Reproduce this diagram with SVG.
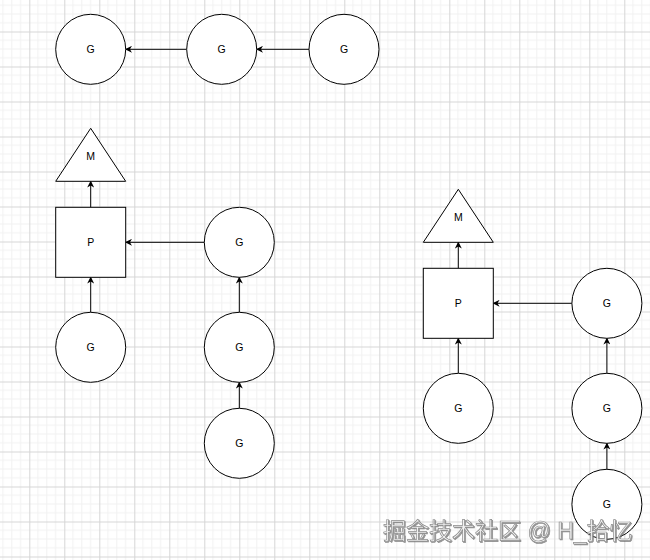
<svg xmlns="http://www.w3.org/2000/svg" width="650" height="560" viewBox="0 0 650 560">
<style>
.node{fill:#fff;stroke:#000;stroke-width:1}
.lbl{font-family:"Liberation Sans",Arial,sans-serif;font-size:10.5px;fill:#000;text-anchor:middle;dominant-baseline:central}
.edge{stroke:#000;stroke-width:1;fill:none;marker-end:url(#arr)}
.wm{font-family:"Liberation Sans","Noto Sans CJK SC",sans-serif;font-size:23px;fill:#f2f2f2;stroke:#8c8c8c;stroke-width:0.7;filter:url(#sh)}
</style>
<defs>
<pattern id="grid" patternUnits="userSpaceOnUse" x="29.3" y="31.5" width="35" height="35">
<path d="M8.75 0V35M17.5 0V35M26.25 0V35M0 8.75H35M0 17.5H35M0 26.25H35" stroke="#f1f1f1" stroke-width="1" fill="none"/>
<path d="M0.5 0V35M0 0.5H35" stroke="#d6d6d6" stroke-width="1" fill="none"/>
</pattern>
<marker id="arr" viewBox="0 0 10 10" refX="9" refY="5" markerWidth="7" markerHeight="7" markerUnits="userSpaceOnUse" orient="auto">
<path d="M0 0L10 5L0 10L3 5Z" fill="#000"/>
</marker>
<filter id="sh" x="-5%" y="-20%" width="110%" height="150%">
<feDropShadow dx="1" dy="1" stdDeviation="0.6" flood-color="#666" flood-opacity="0.7"/>
</filter>
</defs>
<rect width="650" height="560" fill="#fff"/>
<rect width="650" height="560" fill="url(#grid)"/>

<g id="connectors">
<line class="edge" x1="186.7" y1="49.3" x2="125.7" y2="49.3"/>
<line class="edge" x1="309" y1="49.3" x2="256.7" y2="49.3"/>
<line class="edge" x1="90.7" y1="207.3" x2="90.7" y2="181.3"/>
<line class="edge" x1="204.3" y1="242.3" x2="125.7" y2="242.3"/>
<line class="edge" x1="90.7" y1="312.3" x2="90.7" y2="277.3"/>
<line class="edge" x1="239.3" y1="312.3" x2="239.3" y2="277.3"/>
<line class="edge" x1="239.3" y1="408.3" x2="239.3" y2="382.3"/>
<line class="edge" x1="458.3" y1="268.3" x2="458.3" y2="242.3"/>
<line class="edge" x1="571.9" y1="303.3" x2="493.3" y2="303.3"/>
<line class="edge" x1="458.3" y1="373.3" x2="458.3" y2="338.3"/>
<line class="edge" x1="606.9" y1="373.3" x2="606.9" y2="338.3"/>
<line class="edge" x1="606.9" y1="469.3" x2="606.9" y2="443.3"/>
</g>

<g id="g-top-1"><circle class="node" cx="90.7" cy="49.3" r="35"/><text class="lbl" x="90.7" y="49.3">G</text></g>
<g id="g-top-2"><circle class="node" cx="221.7" cy="49.3" r="35"/><text class="lbl" x="221.7" y="49.3">G</text></g>
<g id="g-top-3"><circle class="node" cx="344" cy="49.3" r="35"/><text class="lbl" x="344" y="49.3">G</text></g>

<g id="m-left"><polygon class="node" points="90.7,128.3 125.7,181.3 55.7,181.3"/><text class="lbl" x="90.7" y="156">M</text></g>
<g id="p-left"><rect class="node" x="55.7" y="207.3" width="70" height="70"/><text class="lbl" x="90.7" y="242.3">P</text></g>
<g id="g-left-run"><circle class="node" cx="239.3" cy="242.3" r="35"/><text class="lbl" x="239.3" y="242.3">G</text></g>
<g id="g-left-local"><circle class="node" cx="90.7" cy="347.3" r="35"/><text class="lbl" x="90.7" y="347.3">G</text></g>
<g id="g-left-q1"><circle class="node" cx="239.3" cy="347.3" r="35"/><text class="lbl" x="239.3" y="347.3">G</text></g>
<g id="g-left-q2"><circle class="node" cx="239.3" cy="443.3" r="35"/><text class="lbl" x="239.3" y="443.3">G</text></g>

<g id="m-right"><polygon class="node" points="458.3,189.3 493.3,242.3 423.3,242.3"/><text class="lbl" x="458.3" y="217">M</text></g>
<g id="p-right"><rect class="node" x="423.3" y="268.3" width="70" height="70"/><text class="lbl" x="458.3" y="303.3">P</text></g>
<g id="g-right-run"><circle class="node" cx="606.9" cy="303.3" r="35"/><text class="lbl" x="606.9" y="303.3">G</text></g>
<g id="g-right-local"><circle class="node" cx="458.3" cy="408.3" r="35"/><text class="lbl" x="458.3" y="408.3">G</text></g>
<g id="g-right-q1"><circle class="node" cx="606.9" cy="408.3" r="35"/><text class="lbl" x="606.9" y="408.3">G</text></g>
<g id="g-right-q2"><circle class="node" cx="606.9" cy="504.3" r="35"/><text class="lbl" x="606.9" y="504.3">G</text></g>

<text class="wm" x="383" y="539">掘金技术社区 @ H_拾忆</text>
</svg>
